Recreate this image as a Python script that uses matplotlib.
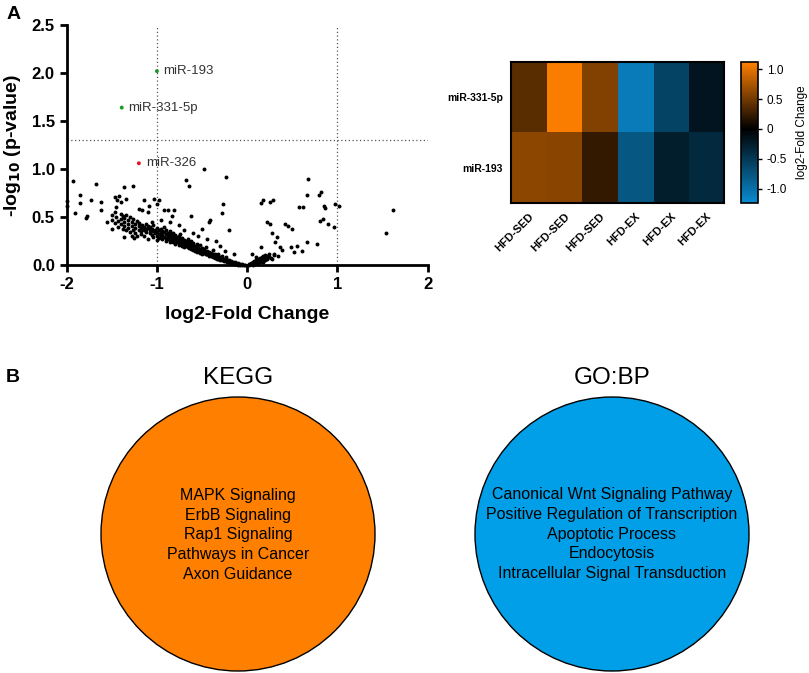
import matplotlib.pyplot as plt
from matplotlib.colors import LinearSegmentedColormap, Normalize
from matplotlib.patches import Circle

plt.rcParams['font.family'] = ['Liberation Sans', 'DejaVu Sans']
plt.rcParams['axes.unicode_minus'] = False

# ---- volcano data (log2 fold change, -log10 p) ----
sig_names = ['miR-193', 'miR-331-5p', 'miR-326']
sig_x = [-1.00, -1.39, -1.20]
sig_y = [2.02, 1.64, 1.06]
sig_colors = ['#1f9a2a', '#1f9a2a', '#e8141e']

# scattered points away from the main band
sparse = [(-0.48, 1.00), (-0.24, 0.92), (-0.68, 0.885), (-0.65, 0.82), (-1.93, 0.875),
          (-1.67, 0.84), (-1.37, 0.81), (-1.26, 0.82), (-1.85, 0.73), (-2.0, 0.67),
          (-2.0, 0.61), (-1.85, 0.65), (-1.73, 0.68), (-1.62, 0.66), (-1.62, 0.57),
          (-1.91, 0.545), (-1.79, 0.49), (-1.78, 0.51), (-1.55, 0.45), (-1.46, 0.71),
          (-1.42, 0.72), (-1.44, 0.68), (-1.34, 0.69), (-1.40, 0.66), (-1.14, 0.68),
          (-1.03, 0.69), (-0.98, 0.68), (-1.0, 0.64), (-1.50, 0.38), (-1.36, 0.29),
          (-1.25, 0.28), (-1.09, 0.62), (-1.16, 0.57), (-0.92, 0.57), (-0.81, 0.57),
          (-0.88, 0.57), (-0.83, 0.51), (-0.62, 0.51), (-0.42, 0.45), (-0.41, 0.47),
          (-0.27, 0.64), (-0.28, 0.54), (-0.20, 0.37),
          (-1.2, 0.58), (-1.1, 0.55), (-0.95, 0.47), (-0.85, 0.45), (-0.75, 0.42),
          (-0.70, 0.36), (-0.60, 0.33), (-0.55, 0.30), (-0.45, 0.27), (-0.35, 0.25),
          (-0.50, 0.38), (-0.30, 0.20), (-0.15, 0.12), (-0.25, 0.15),
          (0.67, 0.90), (0.66, 0.73), (0.82, 0.76), (0.80, 0.73), (0.97, 0.64),
          (1.02, 0.62), (0.85, 0.61), (0.86, 0.59), (0.57, 0.60), (0.62, 0.60),
          (0.15, 0.65), (0.18, 0.68), (0.29, 0.68), (0.25, 0.66), (0.81, 0.46),
          (0.84, 0.48), (0.90, 0.43), (0.96, 0.40), (0.42, 0.43), (0.45, 0.41),
          (0.50, 0.38), (0.22, 0.45), (0.25, 0.43), (1.62, 0.57), (1.54, 0.33),
          (0.15, 0.19), (0.27, 0.33), (0.33, 0.29), (0.31, 0.24), (0.36, 0.19),
          (0.39, 0.16), (0.48, 0.19), (0.55, 0.20), (0.66, 0.24), (0.77, 0.22),
          (0.61, 0.15), (0.52, 0.14)]

# dense band, down-regulated side
band_left = [(-1.50, 0.52), (-1.50, 0.47), (-1.47, 0.55), (-1.47, 0.44), (-1.45, 0.50),
             (-1.45, 0.60), (-1.43, 0.46), (-1.43, 0.40), (-1.40, 0.53), (-1.40, 0.43),
             (-1.40, 0.48), (-1.38, 0.38), (-1.38, 0.51), (-1.36, 0.45), (-1.36, 0.49),
             (-1.36, 0.41), (-1.34, 0.52), (-1.34, 0.36), (-1.32, 0.47), (-1.32, 0.43),
             (-1.32, 0.39), (-1.30, 0.50), (-1.30, 0.34), (-1.28, 0.45), (-1.28, 0.41),
             (-1.28, 0.30), (-1.26, 0.48), (-1.26, 0.37), (-1.24, 0.43), (-1.24, 0.39),
             (-1.24, 0.33), (-1.22, 0.46), (-1.22, 0.30), (-1.20, 0.41), (-1.20, 0.37),
             (-1.20, 0.44), (-1.18, 0.35), (-1.18, 0.39), (-1.18, 0.32), (-1.16, 0.42),
             (-1.16, 0.38), (-1.14, 0.40), (-1.14, 0.36), (-1.14, 0.30), (-1.12, 0.43),
             (-1.12, 0.34), (-1.12, 0.38), (-1.10, 0.39), (-1.10, 0.41), (-1.10, 0.27),
             (-1.08, 0.36), (-1.08, 0.33), (-1.08, 0.40), (-1.06, 0.38), (-1.06, 0.31),
             (-1.06, 0.45), (-1.04, 0.35), (-1.04, 0.42), (-1.04, 0.29), (-1.02, 0.37),
             (-1.02, 0.33), (-1.00, 0.34), (-1.00, 0.30), (-1.00, 0.39), (-1.00, 0.26),
             (-0.98, 0.36), (-0.98, 0.32), (-0.98, 0.28), (-0.96, 0.33), (-0.96, 0.38),
             (-0.96, 0.30), (-0.94, 0.31), (-0.94, 0.35), (-0.94, 0.27), (-0.92, 0.34),
             (-0.92, 0.29), (-0.92, 0.40), (-0.90, 0.32), (-0.90, 0.28), (-0.90, 0.36),
             (-0.90, 0.25), (-0.88, 0.30), (-0.88, 0.33), (-0.88, 0.27), (-0.86, 0.31),
             (-0.86, 0.28), (-0.86, 0.35), (-0.86, 0.24), (-0.84, 0.29), (-0.84, 0.26),
             (-0.84, 0.32), (-0.82, 0.30), (-0.82, 0.27), (-0.82, 0.24), (-0.82, 0.33),
             (-0.80, 0.28), (-0.80, 0.25), (-0.80, 0.31), (-0.80, 0.22), (-0.78, 0.27),
             (-0.78, 0.29), (-0.78, 0.24), (-0.76, 0.26), (-0.76, 0.30), (-0.76, 0.23),
             (-0.76, 0.21), (-0.74, 0.27), (-0.74, 0.24), (-0.74, 0.22), (-0.74, 0.32),
             (-0.72, 0.25), (-0.72, 0.23), (-0.72, 0.28), (-0.72, 0.20), (-0.70, 0.24),
             (-0.70, 0.21), (-0.70, 0.26), (-0.70, 0.19), (-0.68, 0.23), (-0.68, 0.25),
             (-0.68, 0.20), (-0.66, 0.22), (-0.66, 0.19), (-0.66, 0.24), (-0.66, 0.27),
             (-0.64, 0.21), (-0.64, 0.23), (-0.64, 0.18), (-0.62, 0.20), (-0.62, 0.22),
             (-0.62, 0.17), (-0.62, 0.25), (-0.60, 0.19), (-0.60, 0.21), (-0.60, 0.16),
             (-0.60, 0.23), (-0.58, 0.18), (-0.58, 0.20), (-0.58, 0.15), (-0.56, 0.19),
             (-0.56, 0.17), (-0.56, 0.22), (-0.56, 0.14), (-0.54, 0.16), (-0.54, 0.18),
             (-0.54, 0.20), (-0.52, 0.15), (-0.52, 0.17), (-0.52, 0.13), (-0.52, 0.21),
             (-0.50, 0.16), (-0.50, 0.14), (-0.50, 0.18), (-0.50, 0.12), (-0.48, 0.13),
             (-0.48, 0.15), (-0.48, 0.17), (-0.46, 0.12), (-0.46, 0.14), (-0.46, 0.11),
             (-0.46, 0.19), (-0.44, 0.13), (-0.44, 0.11), (-0.44, 0.15), (-0.42, 0.10),
             (-0.42, 0.12), (-0.42, 0.14), (-0.42, 0.09), (-0.40, 0.11), (-0.40, 0.09),
             (-0.40, 0.13), (-0.38, 0.10), (-0.38, 0.08), (-0.38, 0.12), (-0.38, 0.16),
             (-0.36, 0.09), (-0.36, 0.07), (-0.36, 0.11), (-0.34, 0.08), (-0.34, 0.10),
             (-0.34, 0.06), (-0.32, 0.07), (-0.32, 0.09), (-0.32, 0.06), (-0.32, 0.12),
             (-0.30, 0.06), (-0.30, 0.08), (-0.30, 0.05), (-0.28, 0.07), (-0.28, 0.05),
             (-0.28, 0.09), (-0.26, 0.05), (-0.26, 0.06), (-0.26, 0.04), (-0.24, 0.04),
             (-0.24, 0.06), (-0.24, 0.08), (-0.22, 0.04), (-0.22, 0.03), (-0.22, 0.05),
             (-0.20, 0.03), (-0.20, 0.05), (-0.20, 0.04), (-0.18, 0.03), (-0.18, 0.02),
             (-0.18, 0.04), (-0.16, 0.02), (-0.16, 0.03), (-0.14, 0.02), (-0.14, 0.01),
             (-0.14, 0.03), (-0.12, 0.01), (-0.12, 0.02), (-0.10, 0.01), (-0.10, 0.02),
             (-0.10, 0.005), (-0.08, 0.01), (-0.08, 0.005), (-0.06, 0.005), (-0.06, 0.01),
             (-0.04, 0.003), (-0.02, 0.002)]

# dense band, up-regulated side
band_right = [(0.02, 0.003), (0.02, 0.01), (0.04, 0.01), (0.04, 0.02), (0.06, 0.02),
              (0.06, 0.005), (0.06, 0.03), (0.08, 0.02), (0.08, 0.04), (0.08, 0.01),
              (0.10, 0.03), (0.10, 0.05), (0.10, 0.02), (0.12, 0.04), (0.12, 0.02),
              (0.12, 0.06), (0.14, 0.05), (0.14, 0.03), (0.14, 0.07), (0.16, 0.04),
              (0.16, 0.06), (0.16, 0.08), (0.18, 0.05), (0.18, 0.09), (0.18, 0.03),
              (0.20, 0.07), (0.20, 0.10), (0.20, 0.05), (0.22, 0.06), (0.22, 0.09),
              (0.24, 0.08), (0.24, 0.11), (0.26, 0.07), (0.30, 0.10), (0.30, 0.12),
              (0.34, 0.09), (0.05, 0.12), (0.10, 0.08), (0.28, 0.06)]

# ---- heatmap data ----
hm_rows = ['miR-331-5p', 'miR-193']
hm_cols = ['HFD-SED', 'HFD-SED', 'HFD-SED', 'HFD-EX', 'HFD-EX', 'HFD-EX']
hm_vals = [[0.40, 1.10, 0.57, -1.10, -0.60, -0.18],
           [0.62, 0.60, 0.22, -0.78, -0.27, -0.37]]
cb_ticks = [-1.0, -0.5, 0, 0.5, 1.0]
cb_labels = ['-1.0', '-0.5', '0', '0.5', '1.0']

# ---- enrichment terms ----
kegg_terms = ['MAPK Signaling', 'ErbB Signaling', 'Rap1 Signaling',
              'Pathways in Cancer', 'Axon Guidance']
gobp_terms = ['Canonical Wnt Signaling Pathway', 'Positive Regulation of Transcription',
              'Apoptotic Process', 'Endocytosis', 'Intracellular Signal Transduction']

fig = plt.figure(figsize=(8.09, 6.73), dpi=100)

# volcano plot
ax = fig.add_axes([0.0824, 0.6062, 0.4463, 0.3566])
pts = sparse + band_left + band_right
ax.scatter([p[0] for p in pts], [p[1] for p in pts], s=8, c='black', linewidths=0,
           clip_on=False, zorder=3)
ax.scatter(sig_x, sig_y, s=8, c=sig_colors, linewidths=0, zorder=4)
ax.text(sig_x[0] + 0.07, sig_y[0], sig_names[0], fontsize=9.5, color='#333333', va='center')
ax.text(sig_x[1] + 0.07, sig_y[1], sig_names[1], fontsize=9.5, color='#333333', va='center')
ax.text(sig_x[2] + 0.08, sig_y[2], sig_names[2], fontsize=9.5, color='#333333', va='center')
for xv in (-1, 1):
    ax.axvline(xv, color='#555555', ls=(0, (1, 2)), lw=0.9, zorder=1)
ax.axhline(1.3, color='#555555', ls=(0, (1, 2)), lw=0.9, zorder=1)
ax.set_xlim(-2, 2)
ax.set_ylim(0, 2.5)
ax.set_xticks([-2, -1, 0, 1, 2])
ax.set_yticks([0, 0.5, 1.0, 1.5, 2.0, 2.5])
ax.set_yticklabels(['0.0', '0.5', '1.0', '1.5', '2.0', '2.5'])
for s in ('top', 'right'):
    ax.spines[s].set_visible(False)
for s in ('left', 'bottom'):
    ax.spines[s].set_linewidth(2)
ax.tick_params(width=2, length=5, labelsize=12)
for lab in ax.get_xticklabels() + ax.get_yticklabels():
    lab.set_fontweight('bold')
ax.set_xlabel('log2-Fold Change', fontsize=14, fontweight='bold', labelpad=10)
ax.set_ylabel(r'-log$_{\mathbf{10}}$ (p-value)', fontsize=14, fontweight='bold', labelpad=6)
fig.text(0.008, 0.978, 'A', fontsize=14, fontweight='bold', va='center')

# heatmap
cmap = LinearSegmentedColormap.from_list(
    'bo', [(0.0, '#0a8bd0'), (1.24 / 2.36, '#000000'), (1.0, '#ff8000')])
norm = Normalize(vmin=-1.24, vmax=1.12)
hax = fig.add_axes([0.6316, 0.6984, 0.2633, 0.2095])
im = hax.imshow(hm_vals, cmap=cmap, norm=norm, aspect='auto')
hax.set_yticks(range(len(hm_rows)))
hax.set_yticklabels(hm_rows, fontsize=7.5, fontweight='bold')
hax.set_xticks(range(len(hm_cols)))
hax.set_xticklabels(hm_cols, fontsize=8, fontweight='bold', rotation=45,
                    ha='right', rotation_mode='anchor')
hax.tick_params(length=0, pad=6)
for s in hax.spines.values():
    s.set_linewidth(1.5)

cax = fig.add_axes([0.9159, 0.6984, 0.021, 0.2095])
cb = fig.colorbar(im, cax=cax)
cb.set_ticks(cb_ticks)
cb.set_ticklabels(cb_labels)
cb.ax.tick_params(labelsize=8.5, length=3, width=1)
cb.outline.set_linewidth(1.2)
cb.set_label('log2-Fold Change', fontsize=8.5, labelpad=6)

# enrichment circles (axes in pixel units)
bax = fig.add_axes([0, 0, 1, 310 / 673])
bax.set_xlim(0, 809)
bax.set_ylim(673, 363)
bax.axis('off')
bax.add_patch(Circle((238, 534), 137, facecolor='#ff8000', edgecolor='black', lw=1))
bax.add_patch(Circle((612, 534), 137, facecolor='#009fe8', edgecolor='black', lw=1))
bax.text(238, 378, 'KEGG', fontsize=17.5, ha='center', va='center')
bax.text(612, 378, 'GO:BP', fontsize=17.5, ha='center', va='center')
bax.text(238, 535, '\n'.join(kegg_terms), fontsize=11.5, ha='center', va='center',
         linespacing=1.38)
bax.text(612, 534, '\n'.join(gobp_terms), fontsize=11.5, ha='center', va='center',
         linespacing=1.38)
bax.text(6, 378, 'B', fontsize=14, fontweight='bold', va='center')

fig.savefig('out.png', dpi=100)
